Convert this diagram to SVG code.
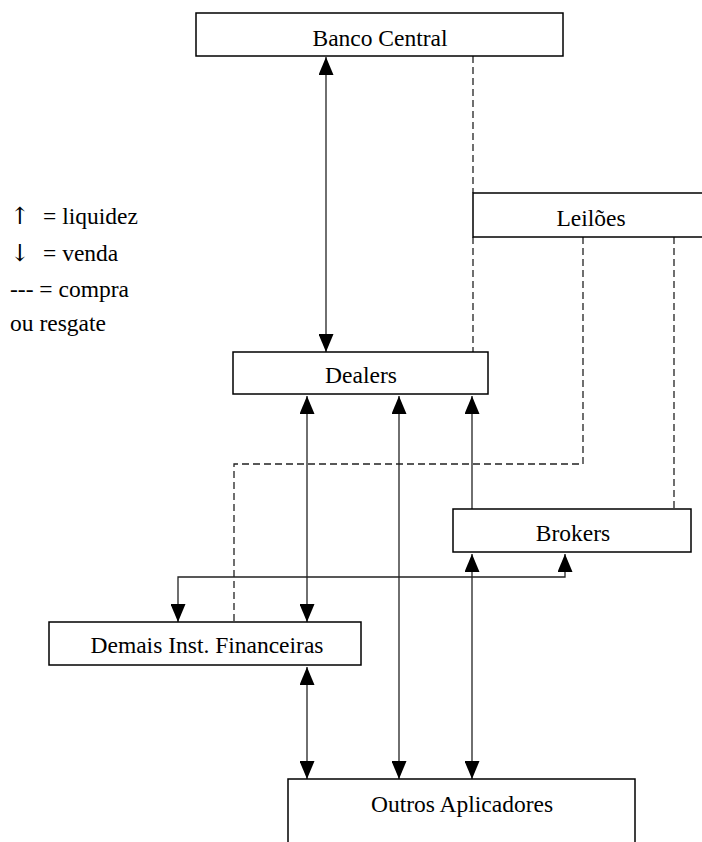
<svg xmlns="http://www.w3.org/2000/svg" width="702" height="842" viewBox="0 0 702 842">
<style>
.box{fill:#fff;stroke:#000;stroke-width:1.5}
.t{font-size:23.5px;fill:#000}
.c{text-anchor:middle}
.ln{fill:none;stroke:#222;stroke-width:1.3}
.d{fill:none;stroke:#222;stroke-width:1.3;stroke-dasharray:7,4}
</style>
<defs>
<marker id="ah" viewBox="0 0 18 15" refX="18" refY="7.5" markerWidth="18" markerHeight="15" markerUnits="userSpaceOnUse" orient="auto-start-reverse">
<path d="M0,0 L18,7.5 L0,15 z" fill="#000"/>
</marker>
</defs>
<rect width="702" height="842" fill="#fff"/>
<g id="connectors">
<line class="ln" x1="326" y1="57" x2="326" y2="352" marker-start="url(#ah)" marker-end="url(#ah)"/>
<line class="d" x1="473" y1="56" x2="473" y2="193"/>
<line class="d" x1="473" y1="237" x2="473" y2="352"/>
<polyline class="d" points="583,237 583,464 234,464 234,622"/>
<line class="d" x1="674" y1="237" x2="674" y2="509"/>
<line class="ln" x1="307" y1="396" x2="307" y2="622" marker-start="url(#ah)" marker-end="url(#ah)"/>
<line class="ln" x1="399" y1="396" x2="399" y2="779" marker-start="url(#ah)" marker-end="url(#ah)"/>
<line class="ln" x1="472" y1="509" x2="472" y2="396" marker-end="url(#ah)"/>
<line class="ln" x1="472" y1="554" x2="472" y2="779" marker-start="url(#ah)" marker-end="url(#ah)"/>
<polyline class="ln" points="565,554 565,577 178,577 178,622" marker-start="url(#ah)" marker-end="url(#ah)"/>
<line class="ln" x1="307" y1="667" x2="307" y2="779" marker-start="url(#ah)" marker-end="url(#ah)"/>
</g>
<g id="banco-central">
<rect class="box" x="196" y="13" width="367" height="43"/>
<text class="t c" font-family="Liberation Serif, DejaVu Serif, serif" x="380" y="46">Banco Central</text>
</g>
<g id="leiloes">
<rect class="box" x="473" y="193" width="240" height="44"/>
<text class="t c" font-family="Liberation Serif, DejaVu Serif, serif" x="591" y="226">Leilões</text>
</g>
<g id="dealers">
<rect class="box" x="233" y="352" width="255" height="42"/>
<text class="t c" font-family="Liberation Serif, DejaVu Serif, serif" x="361" y="383">Dealers</text>
</g>
<g id="brokers">
<rect class="box" x="453" y="509" width="238" height="43"/>
<text class="t c" font-family="Liberation Serif, DejaVu Serif, serif" x="573" y="541">Brokers</text>
</g>
<g id="demais">
<rect class="box" x="49" y="622" width="312" height="43"/>
<text class="t c" font-family="Liberation Serif, DejaVu Serif, serif" x="207" y="653">Demais Inst. Financeiras</text>
</g>
<g id="outros">
<rect class="box" x="288" y="779" width="347" height="80"/>
<text class="t c" font-family="Liberation Serif, DejaVu Serif, serif" x="462" y="812">Outros Aplicadores</text>
</g>
<g id="legend" font-family="Liberation Serif, DejaVu Serif, serif">
<text class="t" x="10" y="224" font-family="DejaVu Serif, serif">↑</text>
<text class="t" x="43" y="224">= liquidez</text>
<text class="t" x="10" y="261" font-family="DejaVu Serif, serif">↓</text>
<text class="t" x="43" y="261">= venda</text>
<text class="t" x="10" y="297">--- = compra</text>
<text class="t" x="10" y="331">ou resgate</text>
</g>
</svg>
